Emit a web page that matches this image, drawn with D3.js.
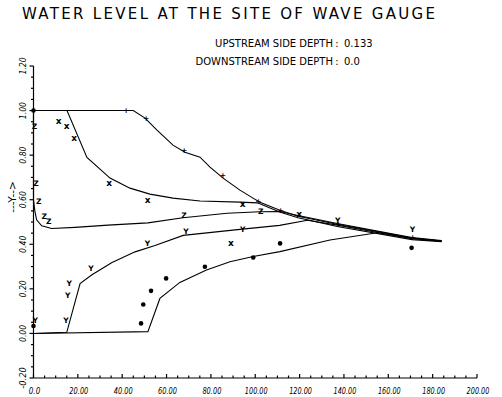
<!DOCTYPE html>
<html>
<head>
<meta charset="utf-8">
<script src="https://cdn.jsdelivr.net/npm/d3@7"></script>
<style>
  body { margin: 0; background: #fff; }
  svg { display: block; font-family: "DejaVu Sans", sans-serif; }
</style>
</head>
<body>
<script>
const canvasWidth = 502,
  canvasHeight = 397;

// axis ticks
const xTicks = [0, 20, 40, 60, 80, 100, 120, 140, 160, 180, 200];
const xTickLabels = ["0.0", "20.00", "40.00", "60.00", "80.00", "100.00", "120.00", "140.00", "160.00", "180.00", "200.00"];
const yTicks = [-0.2, 0, 0.2, 0.4, 0.6, 0.8, 1.0, 1.2];
const yTickLabels = ["-0.20", "0.00", "0.20", "0.40", "0.60", "0.80", "1.00", "1.20"];

// computed curves (T, Y)
const curveA_t = [0, 45, 50.3, 55.7, 62.9, 68.3, 75.1, 79.6, 85.5, 93.1, 99, 102.1, 111.1, 119.3, 136.9, 170.7, 184.2];
const curveA_y = [1.0, 1.0, 0.966, 0.912, 0.845, 0.813, 0.791, 0.746, 0.697, 0.643, 0.607, 0.589, 0.553, 0.526, 0.49, 0.428, 0.415];
const curveB_t = [0, 15.1, 24.1, 34.5, 43.5, 52.5, 62.9, 75.1, 93.1, 101, 111, 119.3, 137, 170.7, 184];
const curveB_y = [1.0, 1.0, 0.79, 0.697, 0.652, 0.625, 0.607, 0.594, 0.589, 0.586, 0.545, 0.519, 0.48, 0.421, 0.412];
const curveC_t = [0, 0, 0.6, 1.4, 3.7, 8.2, 18.7, 33.6, 51.6, 67.4, 87.3, 102.1, 111.1, 119.3, 137, 170.7, 184];
const curveC_y = [1.0, 0.6, 0.55, 0.51, 0.483, 0.471, 0.476, 0.486, 0.496, 0.519, 0.539, 0.546, 0.547, 0.529, 0.493, 0.43, 0.417];
const curveD_t = [0, 15, 21, 26.2, 35.2, 45.8, 54.8, 67.5, 93.1, 111, 123.5, 137, 170.7, 184];
const curveD_y = [0, 0.005, 0.224, 0.262, 0.317, 0.366, 0.395, 0.44, 0.467, 0.485, 0.508, 0.486, 0.425, 0.414];
const curveE_t = [0, 51.6, 57, 66, 78, 88.6, 99.1, 111.1, 133.7, 155, 170.7, 184];
const curveE_y = [0, 0.008, 0.157, 0.229, 0.285, 0.322, 0.345, 0.367, 0.419, 0.452, 0.427, 0.414];

// measured points
const markA_t = [41.3, 50.3, 67.5, 85, 101, 111, 137, 170.5];
const markA_y = [1.0, 0.966, 0.822, 0.71, 0.593, 0.553, 0.49, 0.43];
const markB_t = [10.9, 14.5, 17.9, 33.7, 51, 93.9, 88.6, 119.4];
const markB_y = [0.952, 0.931, 0.878, 0.673, 0.598, 0.579, 0.404, 0.534];
const markC_t = [0, 0.7, 1.9, 4.4, 6.4, 67.4, 102];
const markC_y = [0.93, 0.674, 0.594, 0.523, 0.504, 0.529, 0.546];
const markD_t = [0.3, 14.2, 15, 15.7, 25.5, 51, 68.3, 93.9, 136.7, 170.5];
const markD_y = [0.06, 0.06, 0.172, 0.225, 0.292, 0.404, 0.456, 0.468, 0.507, 0.468];
const markE_t = [0, 0, 48.5, 49.5, 53, 59.8, 77.3, 99.1, 111.2, 170.5];
const markE_y = [1.0, 0.033, 0.045, 0.13, 0.191, 0.247, 0.299, 0.341, 0.404, 0.384];

const svg = d3
  .select("body")
  .append("svg")
  .attr("width", canvasWidth)
  .attr("height", canvasHeight);

const x = d3.scaleLinear().domain([0, 200]).range([33.5, 477]);
const y = d3.scaleLinear().domain([-0.2, 1.2]).range([378, 66]);

// title and header text
svg
  .append("text")
  .attr("x", 22)
  .attr("y", 19)
  .attr("font-size", 15)
  .attr("textLength", 413)
  .attr("lengthAdjust", "spacing")
  .text("WATER LEVEL AT THE SITE OF WAVE GAUGE");

const header = [
  ["UPSTREAM SIDE DEPTH", "0.133", 47],
  ["DOWNSTREAM SIDE DEPTH", "0.0", 65]
];
header.forEach(h => {
  svg.append("text").attr("x", 333).attr("y", h[2]).attr("font-size", 10)
    .attr("text-anchor", "end").text(h[0]);
  svg.append("text").attr("x", 337).attr("y", h[2]).attr("font-size", 10)
    .attr("text-anchor", "middle").text(":");
  svg.append("text").attr("x", 344).attr("y", h[2]).attr("font-size", 10).text(h[1]);
});

// axes
const axes = svg.append("g").attr("stroke", "#000").attr("stroke-width", 1.2);
axes.append("line").attr("x1", x(0)).attr("x2", x(200)).attr("y1", y(-0.2)).attr("y2", y(-0.2));
axes.append("line").attr("x1", x(0)).attr("x2", x(0)).attr("y1", y(-0.2)).attr("y2", y(1.2));

// x ticks point up, every 5 units
d3.range(0, 201, 5).forEach(v => {
  const len = v % 20 === 0 ? 4 : 2.5;
  axes.append("line").attr("x1", x(v)).attr("x2", x(v))
    .attr("y1", y(-0.2)).attr("y2", y(-0.2) - len);
});
// y ticks point left, every 0.05
d3.range(-0.2, 1.201, 0.05).forEach(v => {
  const major = Math.abs(Math.round(v * 100) % 20) === 0;
  axes.append("line").attr("x1", x(0)).attr("x2", x(0) - (major ? 4 : 2.5))
    .attr("y1", y(v)).attr("y2", y(v));
});

svg.selectAll("text.xtick")
  .data(xTicks)
  .enter()
  .append("text")
  .classed("xtick", true)
  .attr("x", d => x(d) + 1)
  .attr("y", 394)
  .attr("font-size", 9)
  .attr("font-style", "italic")
  .attr("text-anchor", "middle")
  .attr("textLength", (d, i) => xTickLabels[i].length * 3.8)
  .attr("lengthAdjust", "spacingAndGlyphs")
  .text((d, i) => xTickLabels[i]);

svg.selectAll("text.ytick")
  .data(yTicks)
  .enter()
  .append("text")
  .classed("ytick", true)
  .attr("transform", d => `translate(26,${y(d)}) rotate(-90)`)
  .attr("font-size", 9)
  .attr("font-style", "italic")
  .attr("text-anchor", "middle")
  .attr("textLength", (d, i) => yTickLabels[i].length * 4.3)
  .attr("lengthAdjust", "spacingAndGlyphs")
  .text((d, i) => yTickLabels[i]);

svg.append("text")
  .attr("transform", "translate(16,197) rotate(-90)")
  .attr("font-size", 10.5)
  .attr("text-anchor", "middle")
  .text("---Y-->");

// axis title sits mostly below the window edge, as in the scan
svg.append("text")
  .attr("x", 262)
  .attr("y", 405)
  .attr("font-size", 10)
  .attr("text-anchor", "middle")
  .text("T-->");

// curves
const line = d3.line().x(d => x(d[0])).y(d => y(d[1]));
const curves = [
  [curveA_t, curveA_y],
  [curveB_t, curveB_y],
  [curveC_t, curveC_y],
  [curveD_t, curveD_y],
  [curveE_t, curveE_y]
];
svg.selectAll("path.curve")
  .data(curves)
  .enter()
  .append("path")
  .classed("curve", true)
  .attr("fill", "none")
  .attr("stroke", "#000")
  .attr("stroke-width", 1.1)
  .attr("d", c => line(d3.zip(c[0], c[1])));

// markers drawn as glyphs, like the plotter did
const glyphMarks = [
  [markA_t, markA_y, "+"],
  [markB_t, markB_y, "x"],
  [markC_t, markC_y, "Z"],
  [markD_t, markD_y, "Y"]
];
glyphMarks.forEach(m => {
  svg.append("g")
    .selectAll("text")
    .data(d3.zip(m[0], m[1]))
    .enter()
    .append("text")
    .attr("x", d => x(d[0]) + 1)
    .attr("y", d => y(d[1]))
    .attr("font-size", m[2] === "x" ? 9 : 7.5)
    .attr("font-weight", "bold")
    .attr("text-anchor", "middle")
    .attr("dominant-baseline", "central")
    .text(m[2]);
});

svg.append("g")
  .selectAll("circle")
  .data(d3.zip(markE_t, markE_y))
  .enter()
  .append("circle")
  .attr("cx", d => x(d[0]))
  .attr("cy", d => y(d[1]))
  .attr("r", 2.3)
  .attr("fill", "#000");
</script>
</body>
</html>
